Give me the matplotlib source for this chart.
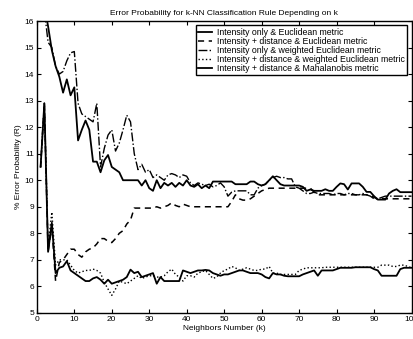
import numpy as np
import matplotlib.pyplot as plt

plt.rcParams['font.family'] = ['Liberation Sans', 'DejaVu Sans']

k = np.arange(1, 101)

# Intensity only & Euclidean metric (upper solid)
int_eucl = [19.0, 16.6, 15.8, 14.9, 14.3, 13.9, 13.3, 13.8, 13.2, 13.5,
            11.5, 11.9, 12.25, 11.9, 10.7, 10.7, 10.3, 10.75, 10.95, 10.5,
            10.4, 10.3, 10.0, 10.0, 10.0, 10.0, 10.0, 9.8, 10.0, 9.7,
            9.6, 10.0, 9.7, 9.9, 9.8, 9.9, 9.75, 9.9, 9.8, 10.0,
            9.8, 9.75, 9.85, 9.7, 9.8, 9.7, 9.95, 9.95, 9.95, 9.95,
            9.95, 9.95, 9.85, 9.85, 9.85, 9.85, 9.95, 9.95, 9.85, 9.8,
            9.85, 10.0, 10.15, 10.0, 9.85, 9.8, 9.8, 9.8, 9.8, 9.8,
            9.75, 9.6, 9.65, 9.6, 9.6, 9.6, 9.66, 9.6, 9.6, 9.75,
            9.88, 9.85, 9.65, 9.88, 9.88, 9.88, 9.75, 9.56, 9.56, 9.4,
            9.27, 9.27, 9.27, 9.5, 9.6, 9.66, 9.55, 9.55, 9.55, 9.55]

# Intensity + distance & Euclidean metric (dashed)
int_dist_eucl = [10.5, 12.9, 7.3, 8.3, 6.2, 6.9, 7.0, 7.2, 7.4, 7.4,
                 7.2, 7.1, 7.3, 7.4, 7.45, 7.6, 7.8, 7.8, 7.7, 7.65,
                 7.8, 8.0, 8.1, 8.35, 8.5, 8.95, 8.95, 8.95, 8.95, 8.95,
                 8.95, 9.0, 8.95, 9.0, 9.05, 9.15, 9.05, 9.0, 9.1, 9.05,
                 9.0, 9.0, 9.0, 9.0, 9.0, 9.0, 9.0, 9.0, 9.0, 9.0,
                 9.0, 9.2, 9.45, 9.3, 9.25, 9.25, 9.3, 9.4, 9.5, 9.6,
                 9.65, 9.7, 9.7, 9.7, 9.7, 9.7, 9.7, 9.7, 9.7, 9.7,
                 9.7, 9.7, 9.7, 9.55, 9.45, 9.45, 9.45, 9.45, 9.45, 9.45,
                 9.45, 9.45, 9.45, 9.45, 9.45, 9.45, 9.45, 9.45, 9.45, 9.35,
                 9.3, 9.3, 9.3, 9.3, 9.3, 9.3, 9.3, 9.3, 9.3, 9.3]

# Intensity only & weighted Euclidean metric (dash-dot)
int_weucl = [19.0, 16.4, 15.2, 15.0, 14.3, 14.0, 14.1, 14.5, 14.8, 14.85,
             12.9, 12.5, 12.4, 12.3, 12.2, 12.9, 10.5, 11.2, 11.7, 11.9,
             11.1, 11.4, 11.9, 12.45, 12.2, 11.0, 10.4, 10.6, 10.3, 10.4,
             10.1, 10.2, 10.1, 10.0, 10.2, 10.25, 10.2, 10.1, 10.2, 10.15,
             9.9, 9.8, 9.9, 9.85, 9.8, 9.85, 9.75, 9.8, 9.9, 9.75,
             9.4, 9.55, 9.6, 9.6, 9.6, 9.6, 9.45, 9.45, 9.7, 9.8,
             9.85, 10.0, 10.1, 10.15, 10.1, 10.1, 10.05, 10.05, 9.75, 9.7,
             9.6, 9.5, 9.5, 9.55, 9.5, 9.5, 9.5, 9.5, 9.45, 9.5,
             9.5, 9.45, 9.5, 9.5, 9.45, 9.45, 9.5, 9.45, 9.4, 9.3,
             9.3, 9.35, 9.4, 9.4, 9.4, 9.4, 9.4, 9.4, 9.4, 9.4]

# Intensity + distance & weighted Euclidean metric (dotted)
int_dist_weucl = [10.5, 12.9, 7.5, 8.8, 6.8, 7.0, 7.0, 7.0, 6.8, 6.6,
                  6.5, 6.55, 6.6, 6.6, 6.65, 6.6, 6.5, 6.15, 5.9, 5.66,
                  5.9, 6.2, 6.15, 6.1, 6.2, 6.3, 6.4, 6.3, 6.35, 6.4,
                  6.4, 6.35, 6.35, 6.4, 6.55, 6.65, 6.45, 6.35, 6.2, 6.4,
                  6.4, 6.35, 6.5, 6.55, 6.6, 6.45, 6.3, 6.35, 6.5, 6.6,
                  6.65, 6.75, 6.7, 6.6, 6.65, 6.7, 6.65, 6.6, 6.6, 6.65,
                  6.65, 6.75, 6.5, 6.5, 6.45, 6.45, 6.45, 6.45, 6.45, 6.6,
                  6.65, 6.7, 6.7, 6.7, 6.7, 6.7, 6.72, 6.72, 6.72, 6.72,
                  6.72, 6.72, 6.72, 6.72, 6.72, 6.72, 6.72, 6.72, 6.72, 6.72,
                  6.72, 6.8, 6.8, 6.8, 6.75, 6.75, 6.8, 6.8, 6.75, 6.7]

# Intensity + distance & Mahalanobis metric (lower solid)
int_dist_maha = [10.5, 12.9, 7.3, 8.4, 6.5, 6.7, 6.75, 6.95, 6.6, 6.5,
                 6.4, 6.3, 6.2, 6.2, 6.3, 6.35, 6.25, 6.1, 6.25, 6.1,
                 6.15, 6.2, 6.25, 6.35, 6.63, 6.5, 6.55, 6.35, 6.4, 6.45,
                 6.5, 6.1, 6.35, 6.2, 6.2, 6.2, 6.2, 6.2, 6.6, 6.55,
                 6.5, 6.55, 6.6, 6.6, 6.62, 6.6, 6.5, 6.45, 6.4, 6.45,
                 6.45, 6.5, 6.55, 6.6, 6.6, 6.55, 6.5, 6.5, 6.5, 6.45,
                 6.35, 6.3, 6.5, 6.45, 6.45, 6.4, 6.38, 6.38, 6.38, 6.38,
                 6.45, 6.5, 6.55, 6.6, 6.4, 6.6, 6.6, 6.6, 6.6, 6.65,
                 6.7, 6.7, 6.7, 6.7, 6.72, 6.72, 6.72, 6.72, 6.72, 6.65,
                 6.6, 6.4, 6.4, 6.4, 6.4, 6.4, 6.65, 6.7, 6.7, 6.7]

labels = ['Intensity only & Euclidean metric',
          'Intensity + distance & Euclidean metric',
          'Intensity only & weighted Euclidean metric',
          'Intensity + distance & weighted Euclidean metric',
          'Intensity + distance & Mahalanobis metric']

fig = plt.figure(figsize=(4.14, 3.39), dpi=100)
ax = fig.add_axes([0.089, 0.077, 0.905, 0.861])

ax.plot(k, int_eucl, 'k-', lw=1.3, label=labels[0])
ax.plot(k, int_dist_eucl, 'k--', lw=1.1, dashes=(4, 3), label=labels[1])
ax.plot(k, int_weucl, 'k-.', lw=1.0, label=labels[2])
ax.plot(k, int_dist_weucl, 'k:', lw=1.0, label=labels[3])
ax.plot(k, int_dist_maha, 'k-', lw=1.3, label=labels[4])

ax.set_xlim(0, 100)
ax.set_ylim(5, 16)
ax.set_xticks(np.arange(0, 101, 10))
ax.set_yticks(np.arange(5, 17, 1))
ax.tick_params(direction='in', top=True, right=True, labelsize=6, length=3, pad=2)
for s in ax.spines.values():
    s.set_linewidth(1.0)

ax.set_title('Error Probability for k-NN Classification Rule Depending on k', fontsize=6, pad=4)
ax.set_xlabel('Neighbors Number (k)', fontsize=6, labelpad=2)
ax.set_ylabel('% Error Probability (R)', fontsize=6, labelpad=2)

leg = ax.legend(loc='upper right', fontsize=6.3, handlelength=1.6, handletextpad=0.6,
                labelspacing=0.02, borderpad=0.25, fancybox=False, framealpha=1,
                borderaxespad=0.5)
leg.get_frame().set_edgecolor('black')
leg.get_frame().set_linewidth(1.0)

fig.savefig('out.png', dpi=100)
